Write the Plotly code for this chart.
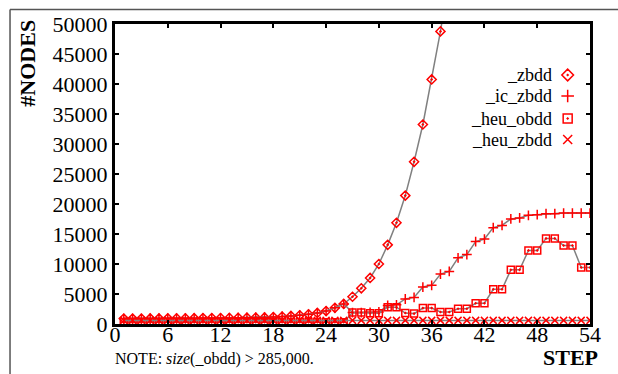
import plotly.graph_objects as go

steps = list(range(1, 55))

zbdd = [900, 900, 910, 920, 930, 940, 950, 960, 970, 980, 990, 1000, 1020, 1040,
        1060, 1080, 1100, 1150, 1250, 1350, 1460, 1620, 1840, 2160, 2700, 3350,
        4540, 5950, 7670, 10000, 13190, 16870, 21400, 27035, 33250, 40760, 48770, 58000]

ic_zbdd = [900, 900, 910, 920, 930, 940, 950, 960, 970, 980, 990, 1000, 1020, 1040,
           1060, 1080, 1100, 1150, 1250, 1350, 1460, 1620, 1840, 2160, 2700, 3350,
           1900, 1900, 1950, 2000, 3080, 3190, 4170, 4430, 6160, 6440, 8320, 8760,
           11030, 11570, 13730, 14160, 16060, 16430, 17520, 17680, 18120, 18220,
           18380, 18380, 18490, 18490, 18490, 18490]

heu_obdd = [300] * 26 + [1900, 1900, 1800, 1800, 2800, 2800, 1830, 1730, 2650, 2650,
                         2000, 2000, 2540, 2540, 3460, 3460, 5780, 5780, 9030, 9030,
                         12270, 12270, 14270, 14270, 13080, 13080, 9410, 9410]

heu_zbdd = [600] * 54

legend_names = ["_zbdd", "_ic_zbdd", "_heu_obdd", "_heu_zbdd"]
symbols = ["diamond-open-dot", "cross-thin-open", "square-open-dot", "x-thin-open"]

x_ticks = list(range(0, 55, 6))
y_ticks = list(range(0, 50001, 5000))

RED = "#ff0000"
GRAY = "#808080"
FONT = "Liberation Serif"

fig = go.Figure()
series = [zbdd, ic_zbdd, heu_obdd, heu_zbdd]
for name, sym, vals in zip(legend_names, symbols, series):
    fig.add_trace(go.Scatter(
        x=steps[:len(vals)], y=vals, mode="lines+markers", name=name,
        line=dict(color=GRAY, width=1.5),
        marker=dict(symbol=sym, color=RED, size=7, line=dict(color=RED, width=1.5)),
        showlegend=False,
    ))

# legend keys on an overlay axis
leg_y = [0.83, 0.76, 0.685, 0.615]
fig.add_trace(go.Scatter(
    x=[0.953] * 4, y=leg_y, mode="markers", xaxis="x2", yaxis="y2",
    marker=dict(symbol=symbols, color=RED, size=9, line=dict(color=RED, width=1.5)),
    showlegend=False, hoverinfo="skip",
))
for name, yy in zip(legend_names, leg_y):
    fig.add_annotation(x=0.925, y=yy, xref="x2", yref="y2", text=name,
                       showarrow=False, xanchor="right", yanchor="middle",
                       font=dict(family=FONT, size=18, color="black"))

axis_common = dict(showline=True, linecolor="black", linewidth=3, mirror="ticks",
                   ticks="inside", ticklen=4, tickwidth=2, tickcolor="black",
                   showgrid=False, zeroline=False,
                   tickfont=dict(family=FONT, size=22, color="black"))

fig.update_layout(
    width=618, height=374,
    margin=dict(l=115, r=28, t=16, b=50),
    paper_bgcolor="white", plot_bgcolor="white",
    xaxis=dict(range=[0, 54], tickvals=x_ticks, ticklabelstandoff=-11, **axis_common),
    yaxis=dict(range=[0, 50000], tickvals=y_ticks, tickformat="d", **axis_common),
    xaxis2=dict(range=[0, 1], overlaying="x", visible=False, fixedrange=True),
    yaxis2=dict(range=[0, 1], overlaying="y", visible=False, fixedrange=True),
    showlegend=False,
)

fig.add_annotation(x=-0.185, y=1.02, xref="paper", yref="paper", text="<b>#NODES</b>",
                   textangle=-90, showarrow=False, xanchor="center", yanchor="top",
                   font=dict(family=FONT, size=22, color="black"))
fig.add_annotation(x=1.021, y=-0.113, xref="paper", yref="paper", text="<b>STEP</b>",
                   showarrow=False, xanchor="right", yanchor="middle",
                   font=dict(family=FONT, size=22, color="black"))
fig.add_annotation(x=-0.005, y=-0.115, xref="paper", yref="paper",
                   text="NOTE: <i>size</i>(_obdd) &gt; 285,000.",
                   showarrow=False, xanchor="left", yanchor="middle",
                   font=dict(family=FONT, size=16, color="black"))

# outer frame lines
fig.add_shape(type="line", xref="paper", yref="paper", x0=-0.221, x1=1.06, y0=1.048, y1=1.048,
              line=dict(color="#555555", width=1.5))
fig.add_shape(type="line", xref="paper", yref="paper", x0=-0.221, x1=-0.221, y0=1.048, y1=-0.17,
              line=dict(color="#555555", width=1.5))

fig.write_html("out.html", config={"displayModeBar": False},
               post_script="document.body.style.margin='0px';")
